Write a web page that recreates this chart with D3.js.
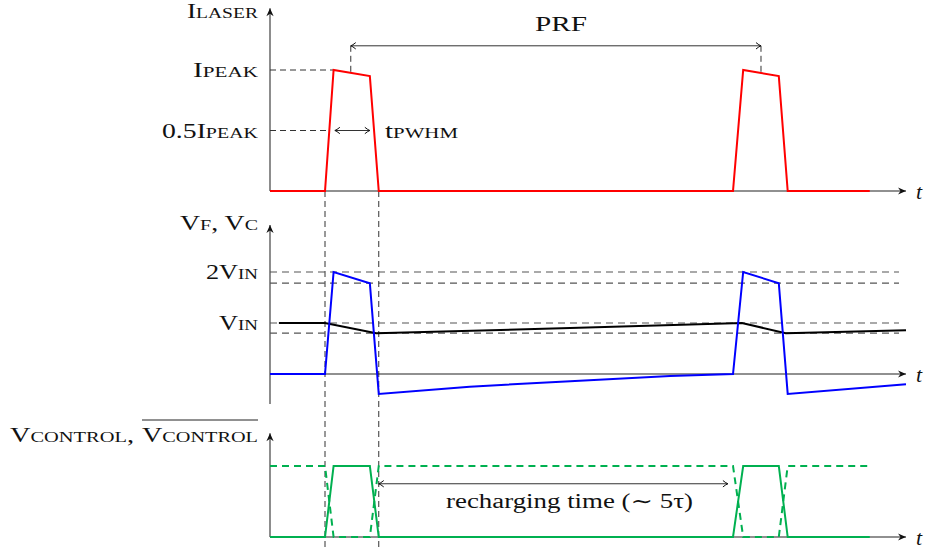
<!DOCTYPE html>
<html><head><meta charset="utf-8">
<script src="https://cdn.jsdelivr.net/npm/d3@7"></script>
<style>
html,body{margin:0;padding:0;background:#fff;}
svg{display:block;}
text{font-family:"Liberation Serif","DejaVu Serif",serif;fill:#111;}
</style></head><body>
<svg id="chart" width="927" height="551"></svg>
<script>
// Shared time axis (arbitrary units)
const timeDomain = [0, 100];

// Laser current, normalised to I_PEAK
const laserTime = [0, 8.65, 10.0, 15.7, 17.1, 72.8, 74.4, 80.0, 81.4, 94.3];
const laserCurrent = [0, 0, 1, 0.95, 0, 0, 1, 0.95, 0, 0];

// V_F (blue) and V_C (black), in units of V_IN
const vfTime = [0, 8.65, 10.0, 15.7, 17.1, 31.4, 47.2, 62.9, 72.8, 74.4, 80.0, 81.4, 100];
const vfValue = [0, 0, 2, 1.78, -0.39, -0.25, -0.14, -0.04, 0, 2, 1.78, -0.39, -0.2];
const vcTime = [1.4, 8.65, 16.7, 47.2, 74.2, 81.1, 100];
const vcValue = [1, 1, 0.8, 0.9, 1.0, 0.8, 0.86];

// Control signal (solid) and its complement (dashed)
const controlTime = [0, 8.65, 10.0, 15.7, 17.1, 72.8, 74.4, 80.0, 81.4, 94.3];
const controlValue = [0, 0, 1, 1, 0, 0, 1, 1, 0, 0];
const controlBarValue = [1, 1, 0, 0, 1, 1, 0, 0, 1, 1];

// Reference levels and spans
const laserLevels = [1, 0.5];
const laserLevelEnds = [10.0, 9.0];
const vLevels = [2, 1.78, 1, 0.8];
const pulseEdges = [8.65, 17.1];
const prfSpan = [12.7, 77.2];
const prfDrop = [0.976, 0.975];
const pwhmSpan = [10.2, 15.7];
const rechargeSpan = [17.1, 72.0];

// Label texts: [text, smallCaps]
const laserTitle = [["I", false], ["LASER", true]];
const laserTickLabels = [
  [["I", false], ["PEAK", true]],
  [["0.5I", false], ["PEAK", true]]
];
const vTitle = [["V", false], ["F", true], [", V", false], ["C", true]];
const vTickLabels = [
  [["2V", false], ["IN", true]],
  [["V", false], ["IN", true]]
];
const vTickValues = [2, 1];
const controlTitle = [["V", false], ["CONTROL", true], [",", false]];
const controlBarTitle = [["V", false], ["CONTROL", true]];
const pwhmLabel = [["t", false], ["PWHM", true]];
const prfLabel = "PRF";
const rechargeLabel = "recharging time (\u223C 5\u03C4)";
const axisVar = "t";

const svg = d3.select("#chart");
const FS = 20.5;
const RED = "#ff0000", BLUE = "#0000ff", GREEN = "#00b050", BLACK = "#000";

const x = d3.scaleLinear().domain(timeDomain).range([270, 906]);
const yTop = d3.scaleLinear().domain([0, 1]).range([191, 70]);
const yMid = d3.scaleLinear().domain([0, 2]).range([374, 272]);
const yBot = d3.scaleLinear().domain([0, 1]).range([537, 466]);

// Arrow markers
const defs = svg.append("defs");
defs.append("marker").attr("id", "tip")
  .attr("viewBox", "-10 -5 12 10").attr("refX", 0).attr("refY", 0)
  .attr("markerWidth", 12).attr("markerHeight", 10)
  .attr("markerUnits", "userSpaceOnUse").attr("orient", "auto")
  .append("path").attr("d", "M0,0 L-8,-3.6 L-5.5,0 L-8,3.6 Z").attr("fill", "#111");
defs.append("marker").attr("id", "dim")
  .attr("viewBox", "-8 -5 10 10").attr("refX", 0).attr("refY", 0)
  .attr("markerWidth", 10).attr("markerHeight", 10)
  .attr("markerUnits", "userSpaceOnUse").attr("orient", "auto-start-reverse")
  .append("path").attr("d", "M-5,-3.2 Q-1.8,-0.6 0,0 Q-1.8,0.6 -5,3.2")
  .attr("fill", "none").attr("stroke", "#111").attr("stroke-width", 1);

const line = d3.line();
function series(times, values, yS) {
  return line(times.map((t, i) => [x(t), yS(values[i])]));
}

function label(parts, lx, ly, w) {
  const t = svg.append("text").attr("x", lx).attr("y", ly)
    .attr("textLength", w).attr("lengthAdjust", "spacingAndGlyphs");
  parts.forEach(([s, sc]) => {
    t.append("tspan").style("font-size", (sc ? FS * 0.72 : FS) + "px").text(s);
  });
  return t;
}

function axes(yS, yLo, yHi) {
  // vertical axis (grey) and time axis (dark)
  svg.append("line").attr("x1", x(0)).attr("x2", x(0))
    .attr("y1", yS(yLo)).attr("y2", yS(yHi))
    .attr("stroke", "#707070").attr("stroke-width", 1.6)
    .attr("marker-end", "url(#tip)");
  svg.append("line").attr("x1", x(0)).attr("x2", x(100))
    .attr("y1", yS(0)).attr("y2", yS(0))
    .attr("stroke", "#222").attr("stroke-width", 1.1)
    .attr("marker-end", "url(#tip)");
  svg.append("text").attr("x", x(100) + 10).attr("y", yS(0) + 8)
    .style("font-style", "italic").style("font-size", "22px").text(axisVar);
}

function dashed(x1, y1, x2, y2, color, w, dash) {
  svg.append("line").attr("x1", x1).attr("y1", y1).attr("x2", x2).attr("y2", y2)
    .attr("stroke", color || "#444").attr("stroke-width", w || 1)
    .attr("stroke-dasharray", dash || "6,4");
}

function dimArrow(x1, x2, yy) {
  svg.append("line").attr("x1", x1).attr("x2", x2).attr("y1", yy).attr("y2", yy)
    .attr("stroke", "#333").attr("stroke-width", 1)
    .attr("marker-start", "url(#dim)").attr("marker-end", "url(#dim)");
}

// ---------- Top panel: laser current ----------
axes(yTop, 0, 1.51);
laserLevels.forEach((v, i) => dashed(x(0), yTop(v), x(laserLevelEnds[i]), yTop(v), "#333"));
prfSpan.forEach((t, i) => dashed(x(t), yTop(1.2), x(t), yTop(prfDrop[i]), "#333"));
dimArrow(x(prfSpan[0]), x(prfSpan[1]), yTop(1.2));
dimArrow(x(pwhmSpan[0]), x(pwhmSpan[1]), yTop(0.5));

// pulse-edge markers running through all panels
pulseEdges.forEach(t => dashed(x(t), yTop(0), x(t), 548, "#333", 1, "6,4"));

svg.append("path").attr("d", series(laserTime, laserCurrent, yTop))
  .attr("fill", "none").attr("stroke", RED).attr("stroke-width", 2)
  .attr("stroke-linejoin", "miter");

label(laserTitle, 187, 18, 71);
label(laserTickLabels[0], 193, yTop(1) + 7, 65);
label(laserTickLabels[1], 162, yTop(0.5) + 7, 96);
label(pwhmLabel, 385, yTop(0.5) + 7, 73);
svg.append("text").attr("x", 535).attr("y", 31).attr("textLength", 52)
  .attr("lengthAdjust", "spacingAndGlyphs").style("font-size", FS + "px").text(prfLabel);

// ---------- Middle panel: V_F and V_C ----------
axes(yMid, -0.59, 2.92);
vLevels.forEach(v => dashed(x(0), yMid(v), x(98.9), yMid(v), "#555", 1.2, "7,5"));

svg.append("path").attr("d", series(vcTime, vcValue, yMid))
  .attr("fill", "none").attr("stroke", BLACK).attr("stroke-width", 2);
svg.append("path").attr("d", series(vfTime, vfValue, yMid))
  .attr("fill", "none").attr("stroke", BLUE).attr("stroke-width", 2);

label(vTitle, 180, 230, 78);
label(vTickLabels[0], 206, yMid(vTickValues[0]) + 7, 52);
label(vTickLabels[1], 219, yMid(vTickValues[1]) + 7, 39);

// ---------- Bottom panel: control signals ----------
axes(yBot, 0, 1.46);
svg.append("path").attr("d", series(controlTime, controlBarValue, yBot))
  .attr("fill", "none").attr("stroke", GREEN).attr("stroke-width", 2)
  .attr("stroke-dasharray", "7,5");
svg.append("path").attr("d", series(controlTime, controlValue, yBot))
  .attr("fill", "none").attr("stroke", GREEN).attr("stroke-width", 2);

dimArrow(x(rechargeSpan[0]), x(rechargeSpan[1]), yBot(0.75));
svg.append("text").attr("x", 446).attr("y", 508).attr("textLength", 247)
  .attr("lengthAdjust", "spacingAndGlyphs").style("font-size", FS + "px").text(rechargeLabel);

label(controlTitle, 10, 442, 124);
label(controlBarTitle, 142, 442, 116);
svg.append("line").attr("x1", 142).attr("x2", 258).attr("y1", 420).attr("y2", 420)
  .attr("stroke", "#222").attr("stroke-width", 1);
</script>
</body></html>
